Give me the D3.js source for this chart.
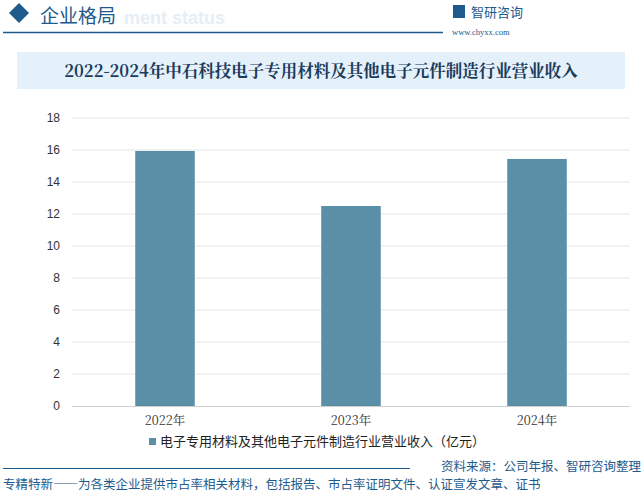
<!DOCTYPE html>
<html lang="zh">
<head>
<meta charset="UTF-8" />
<script src="https://d3js.org/d3.v7.min.js"></script>
<style>
  body { margin: 0; background: #fff; font-family: "Noto Sans CJK SC", sans-serif; }
</style>
</head>
<body>
<svg id="chart" width="644" height="495"></svg>
<script>
  const years = ["2022年", "2023年", "2024年"];
  const revenue = [15.94, 12.5, 15.44];
  const yTicks = [0, 2, 4, 6, 8, 10, 12, 14, 16, 18];
  const seriesName = "电子专用材料及其他电子元件制造行业营业收入（亿元）";

  const svg = d3.select("#chart");
  const serif = "'Noto Serif CJK SC','Noto Sans CJK SC',serif";

  // header
  svg.append("text").attr("x", 124).attr("y", 24).text("ment status")
    .attr("font-family", "Arial").attr("font-weight", "bold").attr("font-size", 18).attr("fill", "#e6eef5");
  svg.append("path").attr("d", "M9,13 L19,3 L29,13 L19,23 Z").attr("fill", "#1e5a8c");
  svg.append("text").attr("x", 40).attr("y", 23).text("企业格局")
    .attr("font-size", 19).attr("fill", "#1e5a8c");
  svg.append("line").attr("x1", 3).attr("x2", 443).attr("y1", 32.5).attr("y2", 32.5)
    .attr("stroke", "#1e5a8c").attr("stroke-width", 1.5);
  svg.append("rect").attr("x", 453).attr("y", 5).attr("width", 12).attr("height", 13).attr("fill", "#1e5a8c");
  svg.append("text").attr("x", 471).attr("y", 17).text("智研咨询").attr("font-size", 13).attr("fill", "#1e5a8c");
  svg.append("text").attr("x", 452).attr("y", 35).text("www.chyxx.com").attr("font-size", 8.5)
    .attr("font-family", "'Liberation Serif',serif").attr("fill", "#1e5a8c");

  // title band
  svg.append("rect").attr("x", 17).attr("y", 52).attr("width", 608).attr("height", 37).attr("fill", "#e5f1fa");
  svg.append("text").attr("x", 321).attr("y", 77).attr("text-anchor", "middle")
    .text("2022-2024年中石科技电子专用材料及其他电子元件制造行业营业收入")
    .attr("font-family", serif).attr("font-weight", "bold").attr("font-size", 16.5).attr("fill", "#1b3a5c");

  // chart
  const x = d3.scaleBand().domain(years).range([72, 630]).paddingInner(0.68).paddingOuter(0.34);
  const y = d3.scaleLinear().domain([0, 18]).range([406, 118]);

  svg.append("g").selectAll("line").data(yTicks.slice(1)).join("line")
    .attr("x1", 72).attr("x2", 630).attr("y1", d => y(d)).attr("y2", d => y(d))
    .attr("stroke", "#e6e6e6");

  const ya = svg.append("g").attr("transform", "translate(72,0)")
    .call(d3.axisLeft(y).tickValues(yTicks).tickSize(0).tickPadding(12));
  ya.select(".domain").remove();
  ya.selectAll("text").attr("font-size", 12).attr("fill", "#333").attr("font-family", "'Liberation Sans',Arial");

  svg.append("g").selectAll("rect").data(revenue).join("rect")
    .attr("x", (d, i) => x(years[i])).attr("width", x.bandwidth())
    .attr("y", d => y(d)).attr("height", d => y(0) - y(d)).attr("fill", "#5b8fa8");

  svg.append("line").attr("x1", 72).attr("x2", 630).attr("y1", 406.5).attr("y2", 406.5).attr("stroke", "#d0d0d0");

  const xa = svg.append("g").attr("transform", "translate(0,406)")
    .call(d3.axisBottom(x).tickSize(0).tickPadding(10));
  xa.select(".domain").remove();
  xa.selectAll("text").attr("font-size", 12.5).attr("fill", "#333").attr("font-family", serif);

  // legend
  svg.append("rect").attr("x", 149).attr("y", 438).attr("width", 7).attr("height", 7).attr("fill", "#5b8fa8");
  svg.append("text").attr("x", 160).attr("y", 446).text(seriesName).attr("font-size", 13).attr("fill", "#222");

  // footer
  svg.append("line").attr("x1", 3).attr("x2", 410).attr("y1", 468.5).attr("y2", 468.5).attr("stroke", "#1e5a8c");
  svg.append("text").attr("x", 641).attr("y", 471).attr("text-anchor", "end").text("资料来源：公司年报、智研咨询整理")
    .attr("font-size", 12.5).attr("fill", "#1e5a8c");
  svg.append("text").attr("x", 3).attr("y", 489).text("专精特新——为各类企业提供市占率相关材料，包括报告、市占率证明文件、认证宣发文章、证书")
    .attr("font-size", 12.5).attr("fill", "#1e5a8c");
</script>
</body>
</html>
